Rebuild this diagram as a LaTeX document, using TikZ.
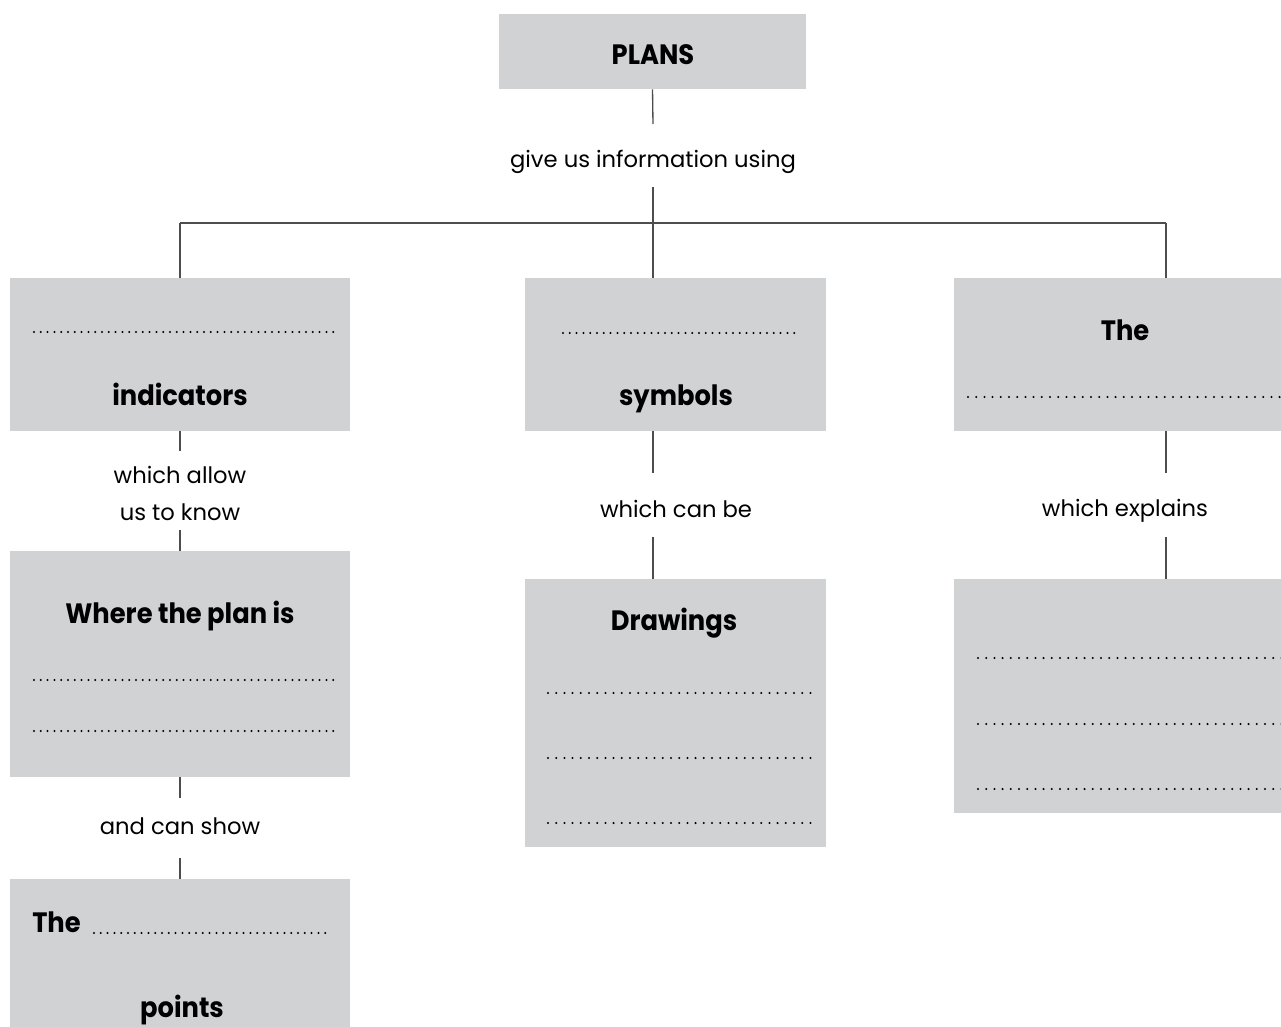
\documentclass[tikz,border=0pt]{standalone}
\usepackage{fontspec}
\setmainfont{Poppins}[BoldFeatures={FakeStretch=0.92}]
\usetikzlibrary{fit}
\definecolor{boxgray}{HTML}{D1D2D4}
\definecolor{linegray}{HTML}{4D4D4D}
\tikzset{
  box/.style={fill=boxgray, inner sep=0pt, draw=none},
  conn/.style={draw=linegray, line width=1pt},
  lab/.style={anchor=base, inner sep=0pt, font=\fontsize{17}{20}\selectfont},
  head/.style={anchor=base, inner sep=0pt, font=\fontsize{21}{24}\selectfont\bfseries},
  dotsA/.style={line width=1.7pt, line cap=round, dash pattern=on 0pt off 5.1pt},
  dotsB/.style={line width=1.7pt, line cap=round, dash pattern=on 0pt off 6.15pt},
}
\begin{document}
\begin{tikzpicture}[x=0.75pt,y=-0.75pt]
\useasboundingbox (0,0) rectangle (1281,1027);
% boxes
\node[box, fit={(499,14) (806,89)}] (plans) {};
\node[box, fit={(10,278) (350,431)}] (ind) {};
\node[box, fit={(525,278) (826,431)}] (sym) {};
\node[box, fit={(954,278) (1300,431)}] (the) {};
\node[box, fit={(10,551) (350,777)}] (where) {};
\node[box, fit={(525,579) (826,847)}] (drw) {};
\node[box, fit={(954,579) (1300,813)}] (expl) {};
\node[box, fit={(10,879) (350,1040)}] (pts) {};
% texts
\node[head] (tPlans) at (653,65) {PLANS};
\node[lab] (give) at (653,168) {give us information using};
\node[head] (tInd) at (180,405) {indicators};
\node[head] (tSym) at (676,405) {symbols};
\node[head] (tThe) at (1125,340) {The};
\node[lab] (allowA) at (180,483) {which allow};
\node[lab] (allowB) at (180,520) {us to know};
\node[lab] (canbe) at (676,517) {which can be};
\node[lab] (explains) at (1125,516) {which explains};
\node[head] (tWhere) at (180,623) {Where the plan is};
\node[head] (tDraw) at (674,630) {Drawings};
\node[lab] (show) at (180,834) {and can show};
\node[head, anchor=base west] (tTheB) at (32,932) {The};
\node[head] (tPoints) at (182,1017) {points};
% dotted answer lines
\draw[dotsA] (34,332) -- (336,332);
\draw[dotsA] (563,333) -- (798,333);
\draw[dotsB] (968,397) -- (1300,397);
\draw[dotsA] (34,680) -- (336,680);
\draw[dotsA] (34,731) -- (336,731);
\draw[dotsB] (548,693) -- (813,693);
\draw[dotsB] (548,758) -- (813,758);
\draw[dotsB] (548,823) -- (813,823);
\draw[dotsB] (978,658) -- (1300,658);
\draw[dotsB] (978,724) -- (1300,724);
\draw[dotsB] (978,789) -- (1300,789);
\draw[dotsA] (94,933) -- (326,933);
% connector coordinates
\coordinate (cA) at (653,124);
\coordinate (cB) at (653,187);
\coordinate (jn) at (653,223);
\coordinate (hl) at (180,223);
\coordinate (hr) at (1166,223);
\coordinate (lA) at (180,451);
\coordinate (lB) at (180,530);
\coordinate (lC) at (180,798);
\coordinate (lD) at (180,858);
\coordinate (mA) at (653,473);
\coordinate (mB) at (653,537);
\coordinate (rA) at (1166,473);
\coordinate (rB) at (1166,537);
% connectors
\draw[conn] (plans.south) -- (cA);
\draw[conn] (cB) -- (jn |- sym.north);
\draw[conn] (hl) -- (hr);
\draw[conn] (hl) -- (hl |- ind.north);
\draw[conn] (hr) -- (hr |- the.north);
\draw[conn] (ind.south) -- (lA);
\draw[conn] (lB) -- (where.north);
\draw[conn] (where.south) -- (lC);
\draw[conn] (lD) -- (pts.north);
\draw[conn] (sym.south -| jn) -- (mA);
\draw[conn] (mB) -- (drw.north -| jn);
\draw[conn] (the.south -| hr) -- (rA);
\draw[conn] (rB) -- (expl.north -| hr);
\end{tikzpicture}
\end{document}
